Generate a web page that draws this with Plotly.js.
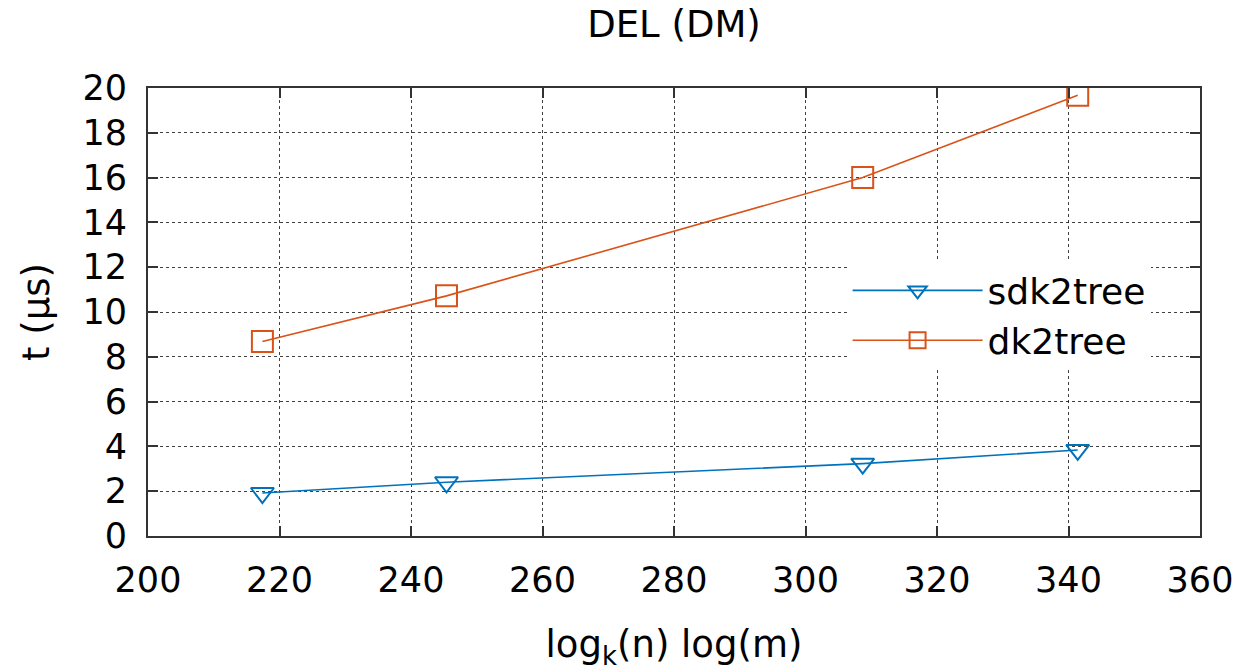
<!DOCTYPE html>
<html><head><meta charset="utf-8">
<script src="https://cdn.plot.ly/plotly-3.0.1.min.js"></script>
<style>html,body{margin:0;padding:0;background:#fff}#chart{width:1236px;height:671px}</style>
</head><body><div id="chart"></div>
<script>
const xValues = [217.4, 245.4, 308.7, 341.4];
const sdk2treeValues = [1.92, 2.40, 3.23, 3.84];
const dk2treeValues = [8.68, 10.72, 16.0, 19.68];
const seriesNames = ['sdk2tree', 'dk2tree'];
const xTicks = [200, 220, 240, 260, 280, 300, 320, 340, 360];
const yTicks = [0, 2, 4, 6, 8, 10, 12, 14, 16, 18, 20];

const font = 'DejaVu Sans, Liberation Sans, sans-serif';
const traces = [
  {x: xValues, y: sdk2treeValues, name: seriesNames[0], type: 'scatter', mode: 'lines+markers',
   line: {color: '#0072bd', width: 1.6},
   marker: {symbol: 'triangle-down-open', size: 20, color: '#0072bd', line: {width: 2, color: '#0072bd'}}},
  {x: xValues, y: dk2treeValues, name: seriesNames[1], type: 'scatter', mode: 'lines+markers',
   line: {color: '#d95319', width: 1.6},
   marker: {symbol: 'square-open', size: 21, color: '#d95319', line: {width: 2, color: '#d95319'}}}
];
const axisCommon = {
  showline: true, mirror: 'ticks', linecolor: '#333', linewidth: 2,
  ticks: 'inside', ticklen: 10, tickwidth: 2, tickcolor: '#333',
  showgrid: true, gridcolor: 'rgba(0,0,0,0.75)', griddash: 'dot', gridwidth: 1,
  zeroline: false, automargin: false, tickfont: {family: font, size: 35, color: '#000'}
};
const layout = {
  width: 1236, height: 671,
  margin: {l: 148, r: 36, t: 88, b: 135},
  paper_bgcolor: '#fff', plot_bgcolor: '#fff',
  title: {text: 'DEL (DM)', font: {family: font, size: 37, color: '#000'}, xref: 'paper', x: 0.5, xanchor: 'center', y: 0.964, yanchor: 'middle'},
  xaxis: Object.assign({}, axisCommon, {range: [200, 360], tickvals: xTicks, ticktext: xTicks.map(String), ticklabelstandoff: 12,
    title: {text: 'log<sub>k</sub>(n) log(m)', font: {family: font, size: 37, color: '#000'}, standoff: 34}}),
  yaxis: Object.assign({}, axisCommon, {range: [0, 20], tickvals: yTicks, ticktext: yTicks.map(String), ticklabelstandoff: 12,
    title: {text: 't (µs)', font: {family: font, size: 37, color: '#000'}, standoff: 22}}),
  showlegend: true,
  legend: {x: 0.665, y: 0.615, xanchor: 'left', yanchor: 'top', bgcolor: 'rgba(255,255,255,1)',
    font: {family: font, size: 36, color: '#000'}, itemwidth: 130, tracegroupgap: 0}
};
Plotly.newPlot('chart', traces, layout, {displayModeBar: false, staticPlot: true});
</script></body></html>
